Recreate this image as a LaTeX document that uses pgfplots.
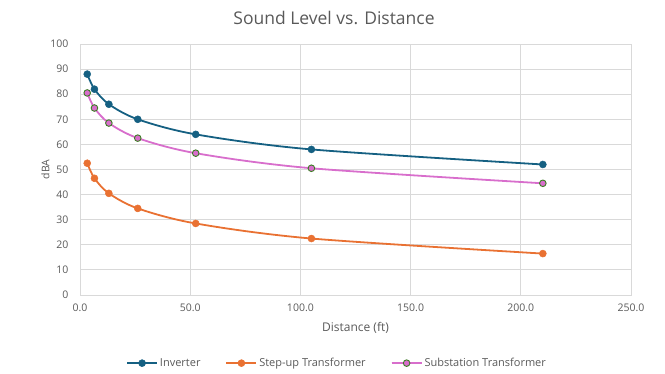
\documentclass[border=0pt]{standalone}
\usepackage{pgfplots}
\pgfplotsset{compat=1.18}
\usepackage{fontspec}
\setmainfont{Open Sans}
\definecolor{inv}{HTML}{156082}
\definecolor{stp}{HTML}{E97132}
\definecolor{sub}{HTML}{D86ECC}
\definecolor{subedge}{HTML}{3B7D23}
\definecolor{gridc}{HTML}{D9D9D9}
\definecolor{txt}{HTML}{595959}
\begin{document}
\begin{tikzpicture}[x=1pt,y=1pt]
\useasboundingbox (0,0) rectangle (665,373);
\node[text=txt,font=\fontsize{17.5}{20}\selectfont] at (334,355) {Sound Level vs. Distance};
\begin{axis}[
  at={(80pt,78pt)}, anchor=south west,
  scale only axis, width=551pt, height=251pt,
  xmin=0, xmax=250, ymin=0, ymax=100,
  xtick={0,50,...,250}, ytick={0,10,...,100},
  grid=major, grid style={gridc, line width=0.9pt},
  axis line style={gridc, line width=0.9pt},
  major tick length=0pt,
  tick label style={text=txt, font=\fontsize{10.5}{12}\selectfont},
  xticklabel style={yshift=-5pt},
  yticklabel style={xshift=-8pt},
  /pgf/number format/assume math mode=true,
  xticklabel={\pgfmathprintnumber[fixed,fixed zerofill,precision=1]{\tick}},
  yticklabel={\pgfmathprintnumber[fixed,precision=0]{\tick}},
  xlabel={Distance (ft)}, ylabel={dBA},
  xlabel style={text=txt, font=\fontsize{12}{14}\selectfont, yshift=-4pt},
  ylabel style={text=txt, font=\fontsize{10.5}{12}\selectfont, yshift=-6pt},
  legend style={at={(0.4665,-0.235)}, anchor=north, draw=none, fill=none,
    legend columns=3, font=\fontsize{11}{13}\selectfont, text=txt,
    /tikz/every even column/.append style={column sep=23pt}},
  legend image code/.code={
    \draw[#1] (0pt,0pt) -- (30pt,0pt);
    \draw[#1,mark repeat=2,mark phase=2] plot coordinates {(0pt,0pt) (15pt,0pt) (30pt,0pt)};},
]
\addplot[inv, line width=1.8pt, smooth, mark=*, mark size=3.5pt, mark options={fill=inv, draw=inv, line width=0.5pt}] coordinates {
(3.28,88) (6.56,82) (13.1,76) (26.2,70) (52.5,64) (105,58) (210,52)};
\addlegendentry{Inverter}
\addplot[stp, line width=1.8pt, smooth, mark=*, mark size=3.5pt, mark options={fill=stp, draw=stp, line width=0.5pt}] coordinates {
(3.28,52.5) (6.56,46.5) (13.1,40.5) (26.2,34.5) (52.5,28.5) (105,22.5) (210,16.5)};
\addlegendentry{Step-up Transformer}
\addplot[sub, line width=1.8pt, smooth, mark=*, mark size=3.3pt, mark options={fill=sub, draw=subedge, line width=0.9pt}] coordinates {
(3.28,80.5) (6.56,74.5) (13.1,68.5) (26.2,62.5) (52.5,56.5) (105,50.5) (210,44.5)};
\addlegendentry{Substation Transformer}
\end{axis}
\end{tikzpicture}
\end{document}
